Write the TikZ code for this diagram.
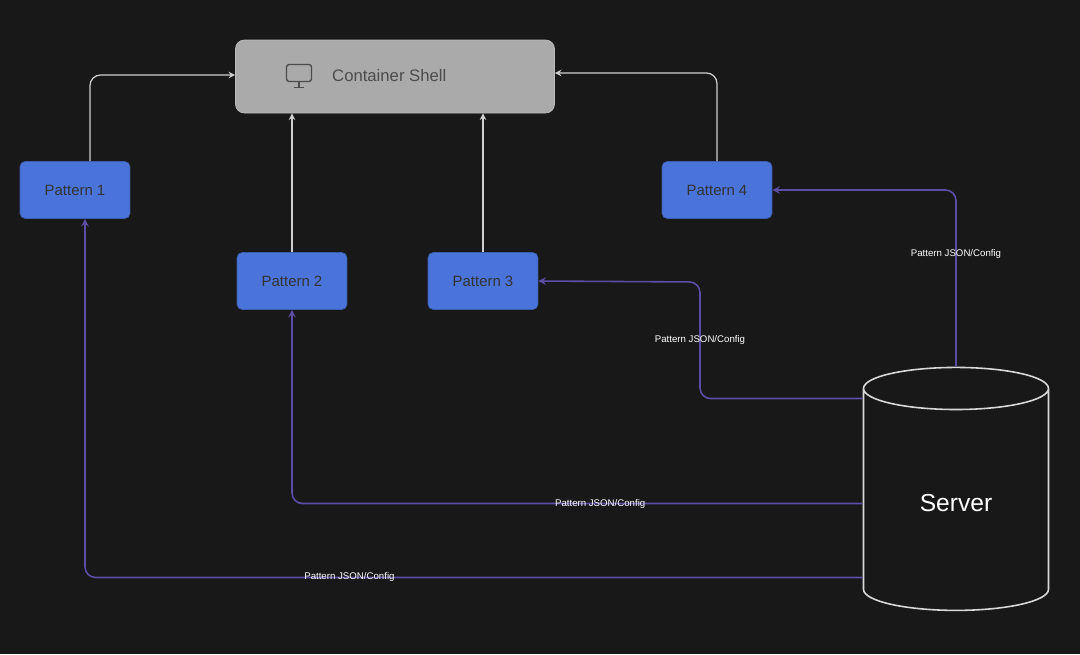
\documentclass[tikz,border=0pt]{standalone}
\usepackage{fontspec}
\setmainfont{Liberation Sans}
\usetikzlibrary{shapes.geometric}
\definecolor{bgdark}{HTML}{181818}
\definecolor{shellgray}{HTML}{AAAAAA}
\definecolor{patblue}{HTML}{4A74DA}
\definecolor{cfgline}{HTML}{5E4DA6}
\definecolor{upline}{HTML}{CFCFCF}

\begin{document}
\begin{tikzpicture}[x=0.02cm,y=-0.02cm,>=stealth,
	pattern/.style={draw=patblue!80!black,fill=patblue,rounded corners=3pt,minimum width=2.2cm,minimum height=1.14cm,font=\fontsize{8.5}{10}\selectfont,text=black!80},
	toshell/.style={->,upline,line width=0.7pt,rounded corners=6pt},
	config/.style={->,cfgline,line width=0.9pt,rounded corners=6pt},
	cfglabel/.style={font=\fontsize{5.5}{6.5}\selectfont,text=white,inner sep=1pt}]
	\fill[bgdark] (0,0) rectangle (1080,654);

	\node[draw=shellgray!80,fill=shellgray,rounded corners=5pt,minimum width=6.38cm,minimum height=1.46cm] (shell) at (395,76.5) {};
	\node[font=\fontsize{9.5}{11}\selectfont,text=black!70,anchor=west] (shelltext) at (326,76) {Container Shell};
	\node[draw=black!70,line width=0.8pt,rounded corners=1.5pt,minimum width=0.5cm,minimum height=0.34cm,inner sep=0pt] (icon) at (299,73) {};
	\draw[black!70,line width=0.8pt] (icon.south) -- ++(0,5) coordinate (iconfoot);
	\draw[black!70,line width=0.8pt] ([xshift=-0.1cm]iconfoot) -- ([xshift=0.1cm]iconfoot);

	\node[pattern] (p1) at (75,190) {Pattern 1};
	\node[pattern] (p2) at (292,281) {Pattern 2};
	\node[pattern] (p3) at (483,281) {Pattern 3};
	\node[pattern] (p4) at (717,190) {Pattern 4};

	\node[cylinder,shape border rotate=90,draw=white!85!black,line width=0.9pt,aspect=0.5,minimum width=3.7cm,minimum height=4.86cm,font=\fontsize{14}{16}\selectfont,text=white] (server) at (956,503.5) {Server};

	%% lines to the shell
	\draw[toshell] ([xshift=0.3cm]p1.north) |- ([yshift=0.03cm]shell.west);
	\draw[toshell] (p2.north) -- (p2.north |- shell.south);
	\draw[toshell] (p3.north) -- (p3.north |- shell.south);
	\draw[toshell] (p4.north) |- ([yshift=0.07cm]shell.east);

	%% lines from the server
	\draw[config] (server.north) |- (p4.east) node[pos=0.32,cfglabel] (l4) {Pattern JSON/Config};
	\draw[config] ([yshift=2.1cm]server.west) -| (700,282) node[pos=0.75,cfglabel] (l3) {Pattern JSON/Config} -- (p3.east);
	\draw[config] (server.west) -| (p2.south) node[pos=0.23,cfglabel] (l2) {Pattern JSON/Config};
	\draw[config] ([yshift=-1.48cm]server.west) -| ([xshift=0.2cm]p1.south) node[pos=0.33,cfglabel] (l1) {Pattern JSON/Config};
\end{tikzpicture}
\end{document}
